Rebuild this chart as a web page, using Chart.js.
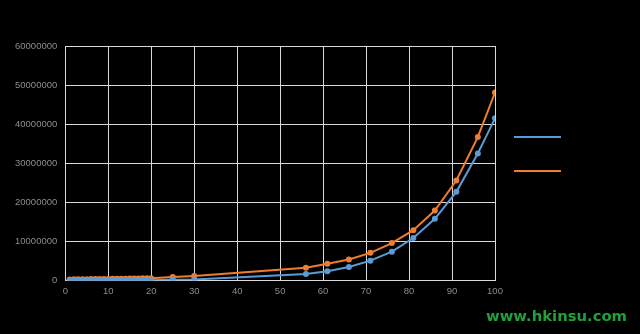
<!DOCTYPE html>
<html>
<head>
<meta charset="utf-8">
<script src="https://cdn.jsdelivr.net/npm/chart.js@4.4.1/dist/chart.umd.min.js"></script>
<style>
  html, body { margin: 0; padding: 0; background: #000; }
  #wrap { position: relative; width: 640px; height: 334px; }
  #mark {
    position: absolute; left: 486px; top: 309px;
    font: bold 14.8px "DejaVu Sans", sans-serif; line-height: 1;
    color: #1fa03a; white-space: nowrap;
  }
</style>
</head>
<body>
<div id="wrap">
  <canvas id="chart"></canvas>
  <div id="mark">www.hkinsu.com</div>
</div>
<script>
const ages = [1, 2, 3, 4, 5, 6, 7, 8, 9, 10, 11, 12, 13, 14, 15, 16, 17, 18, 19, 20, 25, 30, 56, 61, 66, 71, 76, 81, 86, 91, 96, 100];

const seriesBlue = [
  20000, 30000, 30000, 40000, 40000, 50000, 50000, 60000, 60000, 70000,
  70000, 80000, 80000, 90000, 90000, 100000, 100000, 110000, 110000, 120000,
  200000, 300000, 1700000, 2400000, 3500000, 5100000, 7400000, 10900000,
  15800000, 22700000, 32500000, 41500000,
];

const seriesOrange = [
  300000, 320000, 330000, 350000, 360000, 380000, 390000, 410000, 420000, 440000,
  450000, 470000, 490000, 500000, 520000, 540000, 560000, 580000, 600000, 620000,
  950000, 1150000, 3300000, 4300000, 5400000, 7100000, 9600000, 12900000,
  17900000, 25600000, 36700000, 48100000,
];

const seriesNames = ["男", "女"];
const xTicks = [0, 100, 10];
const yTicks = [0, 60000000, 10000000];

const blue = "#5b9bd5";
const orange = "#ed7d31";
const tickFont = { family: "Liberation Sans", size: 9.5 };

function toPoints(values) {
  return values.map((v, i) => ({ x: ages[i], y: v }));
}

function makeDataset(label, values, color) {
  return {
    label,
    data: toPoints(values),
    borderColor: color,
    backgroundColor: color,
    borderWidth: 2,
    pointRadius: 3,
    pointBackgroundColor: color,
    pointBorderColor: color,
    pointBorderWidth: 0,
    tension: 0,
  };
}

new Chart(document.getElementById("chart"), {
  type: "line",
  data: {
    datasets: [
      makeDataset(seriesNames[0], seriesBlue, blue),
      makeDataset(seriesNames[1], seriesOrange, orange),
    ],
  },
  options: {
    responsive: true,
    maintainAspectRatio: false,
    animation: false,
    layout: { padding: { top: 46, bottom: 32, left: 7, right: 46.5 } },
    plugins: {
      tooltip: { enabled: false },
      legend: {
        position: "right",
        align: "start",
        title: { display: true, text: "", font: { size: 12 }, padding: { top: 50, bottom: 0 } },
        labels: {
          color: "#000",
          font: { size: 15 },
          padding: 19,
          boxWidth: 47,
          boxHeight: 2,
          generateLabels: (chart) =>
            Chart.defaults.plugins.legend.labels.generateLabels(chart).map((l) => ({ ...l, lineWidth: 0 })),
        },
      },
    },
    scales: {
      x: {
        type: "linear",
        min: xTicks[0],
        max: xTicks[1],
        ticks: { stepSize: xTicks[2], color: "#8c8c8c", font: tickFont, padding: 5, maxRotation: 0 },
        grid: { color: "#d9d9d9", drawTicks: false },
        border: { color: "#d9d9d9" },
      },
      y: {
        min: yTicks[0],
        max: yTicks[1],
        ticks: {
          stepSize: yTicks[2],
          color: "#8c8c8c",
          font: tickFont,
          padding: 8,
          callback: (value) => String(value),
        },
        grid: { color: "#d9d9d9", drawTicks: false },
        border: { color: "#d9d9d9" },
      },
    },
  },
});
</script>
</body>
</html>
